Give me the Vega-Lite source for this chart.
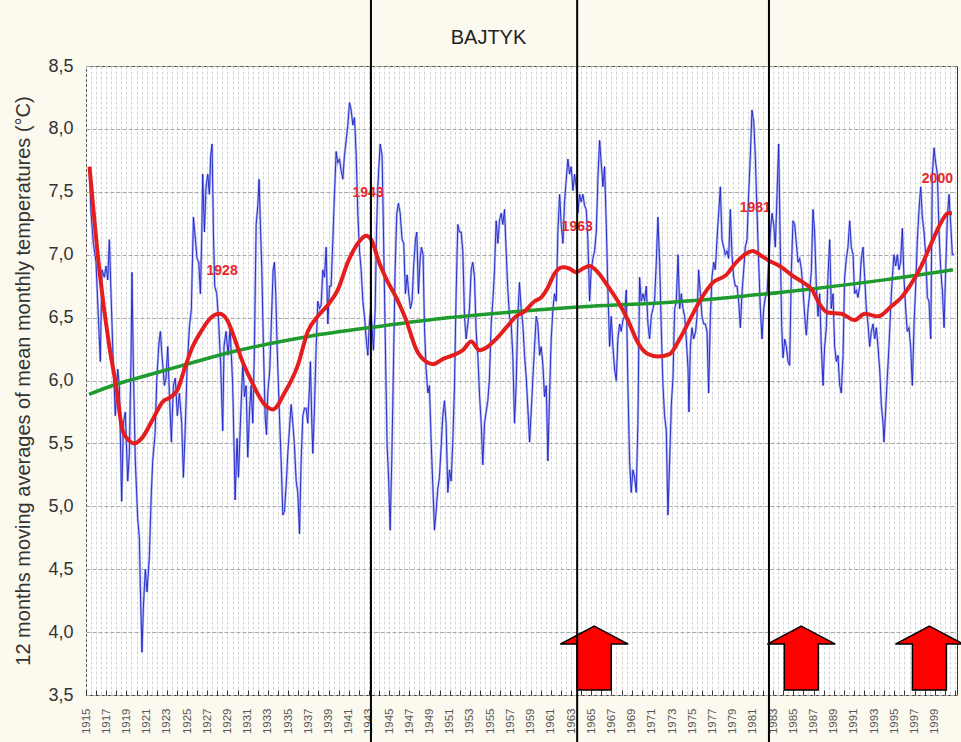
{
  "$schema": "https://vega.github.io/schema/vega-lite/v6.json",
  "width": 871,
  "height": 629,
  "autosize": "none",
  "padding": {"left": 86, "top": 66, "right": 4, "bottom": 47},
  "background": "#fcf9ee",
  "config": {
    "view": {"fill": "white", "stroke": "#333333", "strokeWidth": 1},
    "font": "Liberation Sans"
  },
  "title": {
    "text": "BAJTYK",
    "fontSize": 20,
    "fontWeight": "normal",
    "color": "#222222",
    "font": "Liberation Sans",
    "anchor": "middle",
    "dx": -33,
    "offset": -51
  },
  "datasets": {
    "blue": [
      {"t":1915.35,"v":7.65},{"t":1915.50,"v":7.33},{"t":1915.73,"v":7.09},{"t":1915.99,"v":6.94},{"t":1916.25,"v":6.45},{"t":1916.42,"v":6.15},{"t":1916.58,"v":6.88},{"t":1916.82,"v":6.82},{"t":1916.98,"v":6.91},{"t":1917.15,"v":6.80},{"t":1917.31,"v":7.12},{"t":1917.48,"v":6.69},{"t":1917.64,"v":6.27},{"t":1917.90,"v":5.72},{"t":1918.14,"v":6.09},{"t":1918.30,"v":5.96},{"t":1918.53,"v":5.04},{"t":1918.70,"v":5.66},{"t":1918.89,"v":5.75},{"t":1919.13,"v":5.20},{"t":1919.29,"v":5.42},{"t":1919.46,"v":6.20},{"t":1919.55,"v":6.86},{"t":1919.69,"v":6.09},{"t":1919.88,"v":5.36},{"t":1920.12,"v":4.90},{"t":1920.28,"v":4.75},{"t":1920.38,"v":4.35},{"t":1920.54,"v":3.84},{"t":1920.68,"v":4.20},{"t":1920.87,"v":4.50},{"t":1921.04,"v":4.32},{"t":1921.27,"v":4.60},{"t":1921.44,"v":5.05},{"t":1921.60,"v":5.36},{"t":1921.83,"v":5.57},{"t":1922.00,"v":5.99},{"t":1922.19,"v":6.27},{"t":1922.36,"v":6.39},{"t":1922.52,"v":6.20},{"t":1922.76,"v":5.96},{"t":1922.92,"v":6.02},{"t":1923.09,"v":6.27},{"t":1923.25,"v":5.90},{"t":1923.45,"v":5.51},{"t":1923.65,"v":5.96},{"t":1923.84,"v":6.02},{"t":1924.04,"v":5.72},{"t":1924.24,"v":5.90},{"t":1924.47,"v":5.66},{"t":1924.64,"v":5.23},{"t":1924.80,"v":5.57},{"t":1925.00,"v":6.09},{"t":1925.23,"v":6.42},{"t":1925.43,"v":6.57},{"t":1925.63,"v":7.30},{"t":1925.83,"v":7.12},{"t":1925.99,"v":6.97},{"t":1926.16,"v":6.94},{"t":1926.32,"v":6.69},{"t":1926.45,"v":7.12},{"t":1926.55,"v":7.64},{"t":1926.72,"v":7.18},{"t":1926.88,"v":7.54},{"t":1927.05,"v":7.64},{"t":1927.21,"v":7.48},{"t":1927.34,"v":7.79},{"t":1927.48,"v":7.88},{"t":1927.61,"v":7.18},{"t":1927.74,"v":6.75},{"t":1927.94,"v":6.69},{"t":1928.14,"v":6.45},{"t":1928.33,"v":6.12},{"t":1928.53,"v":5.60},{"t":1928.66,"v":6.27},{"t":1928.86,"v":6.39},{"t":1929.06,"v":6.20},{"t":1929.26,"v":6.42},{"t":1929.52,"v":5.96},
      {"t":1929.76,"v":5.05},{"t":1929.95,"v":5.54},{"t":1930.09,"v":5.23},{"t":1930.28,"v":5.66},{"t":1930.52,"v":6.15},{"t":1930.68,"v":5.87},{"t":1930.85,"v":5.96},{"t":1931.01,"v":5.39},{"t":1931.18,"v":5.75},{"t":1931.34,"v":5.96},{"t":1931.51,"v":5.66},{"t":1931.67,"v":6.27},{"t":1931.84,"v":7.24},{"t":1932.00,"v":7.39},{"t":1932.13,"v":7.60},{"t":1932.26,"v":7.24},{"t":1932.40,"v":6.88},{"t":1932.56,"v":6.27},{"t":1932.73,"v":5.72},{"t":1932.86,"v":5.57},{"t":1932.99,"v":5.90},{"t":1933.19,"v":6.09},{"t":1933.39,"v":6.57},{"t":1933.52,"v":6.88},{"t":1933.65,"v":6.94},{"t":1933.78,"v":6.69},{"t":1933.91,"v":6.27},{"t":1934.15,"v":5.72},{"t":1934.31,"v":5.36},{"t":1934.48,"v":4.93},{"t":1934.64,"v":4.96},{"t":1934.81,"v":5.17},{"t":1934.97,"v":5.42},{"t":1935.17,"v":5.66},{"t":1935.30,"v":5.81},{"t":1935.47,"v":5.66},{"t":1935.63,"v":5.48},{"t":1935.80,"v":5.20},{"t":1935.96,"v":5.11},{"t":1936.13,"v":4.78},{"t":1936.29,"v":5.36},{"t":1936.46,"v":5.72},{"t":1936.62,"v":5.78},{"t":1936.79,"v":5.78},{"t":1936.95,"v":5.66},{"t":1937.12,"v":5.96},{"t":1937.21,"v":6.15},{"t":1937.35,"v":5.66},{"t":1937.45,"v":5.42},{"t":1937.61,"v":5.78},{"t":1937.78,"v":6.27},{"t":1937.94,"v":6.63},{"t":1938.11,"v":6.57},{"t":1938.27,"v":6.60},{"t":1938.44,"v":6.88},{"t":1938.60,"v":6.82},{"t":1938.77,"v":7.06},{"t":1938.93,"v":6.45},{"t":1939.10,"v":6.75},{"t":1939.26,"v":6.75},{"t":1939.43,"v":7.12},{"t":1939.59,"v":7.48},{"t":1939.76,"v":7.82},{"t":1939.92,"v":7.73},{"t":1940.09,"v":7.76},{"t":1940.25,"v":7.67},{"t":1940.42,"v":7.60},{"t":1940.58,"v":7.79},{"t":1940.75,"v":7.91},{"t":1940.91,"v":8.03},{"t":1941.08,"v":8.21},{"t":1941.24,"v":8.15},{"t":1941.41,"v":8.03},{"t":1941.57,"v":8.09},{"t":1941.74,"v":7.79},{"t":1941.90,"v":7.33},{"t":1942.07,"v":7.03},{"t":1942.23,"v":6.88},{"t":1942.40,"v":6.63},{"t":1942.56,"v":6.51},{"t":1942.73,"v":6.33},{"t":1942.89,"v":6.20},{"t":1943.02,"v":6.42},{"t":1943.16,"v":6.57},{"t":1943.29,"v":6.45},{"t":1943.45,"v":6.24},{"t":1943.62,"v":6.57},{"t":1943.75,"v":7.18},{"t":1943.88,"v":7.54},
      {"t":1944.11,"v":7.88},{"t":1944.30,"v":7.79},{"t":1944.44,"v":7.18},{"t":1944.63,"v":6.27},{"t":1944.80,"v":5.48},{"t":1944.96,"v":5.20},{"t":1945.10,"v":4.81},{"t":1945.26,"v":5.36},{"t":1945.43,"v":6.12},{"t":1945.59,"v":6.88},{"t":1945.76,"v":7.33},{"t":1945.92,"v":7.41},{"t":1946.09,"v":7.33},{"t":1946.28,"v":7.12},{"t":1946.45,"v":7.09},{"t":1946.61,"v":6.69},{"t":1946.78,"v":6.84},{"t":1946.94,"v":6.69},{"t":1947.11,"v":6.57},{"t":1947.27,"v":6.63},{"t":1947.41,"v":6.88},{"t":1947.60,"v":7.12},{"t":1947.74,"v":7.18},{"t":1947.90,"v":6.69},{"t":1948.07,"v":6.97},{"t":1948.20,"v":7.06},{"t":1948.36,"v":7.00},{"t":1948.50,"v":6.42},{"t":1948.66,"v":6.09},{"t":1948.83,"v":5.90},{"t":1948.99,"v":5.96},{"t":1949.16,"v":5.51},{"t":1949.32,"v":5.17},{"t":1949.49,"v":4.81},{"t":1949.65,"v":4.96},{"t":1949.82,"v":5.14},{"t":1949.98,"v":5.23},{"t":1950.15,"v":5.48},{"t":1950.31,"v":5.72},{"t":1950.48,"v":5.84},{"t":1950.64,"v":5.66},{"t":1950.81,"v":5.11},{"t":1950.97,"v":5.29},{"t":1951.14,"v":5.20},{"t":1951.30,"v":5.51},{"t":1951.47,"v":5.96},{"t":1951.63,"v":6.69},{"t":1951.80,"v":7.24},{"t":1951.96,"v":7.18},{"t":1952.13,"v":7.18},{"t":1952.29,"v":7.03},{"t":1952.46,"v":6.51},{"t":1952.62,"v":6.33},{"t":1952.79,"v":6.45},{"t":1952.95,"v":6.57},{"t":1953.12,"v":6.88},{"t":1953.28,"v":6.94},{"t":1953.45,"v":6.82},{"t":1953.61,"v":6.39},{"t":1953.78,"v":6.20},{"t":1953.94,"v":5.90},{"t":1954.11,"v":5.66},{"t":1954.27,"v":5.33},{"t":1954.44,"v":5.66},{"t":1954.60,"v":5.75},{"t":1954.77,"v":5.84},{"t":1954.93,"v":6.02},{"t":1955.10,"v":6.45},{"t":1955.26,"v":6.63},{"t":1955.43,"v":6.88},{"t":1955.59,"v":7.27},{"t":1955.76,"v":7.09},{"t":1955.92,"v":7.27},{"t":1956.09,"v":7.33},{"t":1956.25,"v":7.24},{"t":1956.42,"v":7.36},{"t":1956.58,"v":7.03},{"t":1956.75,"v":6.72},{"t":1956.91,"v":6.51},{"t":1957.08,"v":6.45},{"t":1957.24,"v":6.20},{"t":1957.41,"v":5.66},{"t":1957.57,"v":5.96},{"t":1957.74,"v":6.51},{"t":1957.90,"v":6.78},{"t":1958.07,"v":6.57},{"t":1958.23,"v":6.45},{"t":1958.40,"v":6.20},
      {"t":1958.57,"v":6.02},{"t":1958.73,"v":5.78},{"t":1958.90,"v":5.51},{"t":1959.06,"v":5.75},{"t":1959.23,"v":6.02},{"t":1959.39,"v":6.27},{"t":1959.56,"v":6.51},{"t":1959.72,"v":6.45},{"t":1959.89,"v":6.20},{"t":1960.05,"v":6.27},{"t":1960.22,"v":6.12},{"t":1960.38,"v":5.87},{"t":1960.55,"v":5.96},{"t":1960.71,"v":5.36},{"t":1960.88,"v":5.90},{"t":1961.04,"v":6.33},{"t":1961.21,"v":6.57},{"t":1961.37,"v":6.69},{"t":1961.54,"v":6.63},{"t":1961.70,"v":7.18},{"t":1961.87,"v":7.48},{"t":1962.03,"v":7.24},{"t":1962.20,"v":7.09},{"t":1962.36,"v":7.42},{"t":1962.53,"v":7.60},{"t":1962.69,"v":7.76},{"t":1962.86,"v":7.64},{"t":1963.02,"v":7.70},{"t":1963.19,"v":7.51},{"t":1963.35,"v":7.64},{"t":1963.52,"v":7.54},{"t":1963.68,"v":7.33},{"t":1963.85,"v":7.48},{"t":1964.01,"v":7.42},{"t":1964.18,"v":7.48},{"t":1964.34,"v":7.39},{"t":1964.51,"v":7.36},{"t":1964.67,"v":7.12},{"t":1964.84,"v":6.63},{"t":1965.00,"v":6.88},{"t":1965.17,"v":6.97},{"t":1965.33,"v":7.03},{"t":1965.50,"v":7.18},{"t":1965.66,"v":7.60},{"t":1965.83,"v":7.91},{"t":1965.99,"v":7.73},{"t":1966.16,"v":7.54},{"t":1966.32,"v":7.70},{"t":1966.49,"v":7.24},{"t":1966.65,"v":6.72},{"t":1966.82,"v":6.27},{"t":1966.98,"v":6.51},{"t":1967.15,"v":6.27},{"t":1967.31,"v":6.09},{"t":1967.48,"v":6.00},{"t":1967.64,"v":6.33},{"t":1967.81,"v":6.45},{"t":1967.97,"v":6.39},{"t":1968.14,"v":6.48},{"t":1968.30,"v":6.51},{"t":1968.47,"v":6.72},{"t":1968.63,"v":5.96},{"t":1968.80,"v":5.36},{"t":1968.96,"v":5.11},{"t":1969.13,"v":5.29},{"t":1969.29,"v":5.23},{"t":1969.46,"v":5.11},{"t":1969.62,"v":5.66},{"t":1969.79,"v":6.82},{"t":1969.95,"v":6.63},{"t":1970.12,"v":6.69},{"t":1970.28,"v":6.63},{"t":1970.45,"v":6.75},{"t":1970.61,"v":6.45},{"t":1970.78,"v":6.33},{"t":1970.94,"v":6.51},{"t":1971.11,"v":6.57},{"t":1971.27,"v":6.63},{"t":1971.44,"v":6.94},{"t":1971.60,"v":7.30},{"t":1971.77,"v":6.94},{"t":1971.93,"v":6.42},{"t":1972.10,"v":5.96},{"t":1972.26,"v":5.72},{"t":1972.43,"v":5.60},{"t":1972.59,"v":4.93},{"t":1972.76,"v":5.36},
      {"t":1972.93,"v":5.81},{"t":1973.09,"v":6.02},{"t":1973.26,"v":6.57},{"t":1973.42,"v":6.63},{"t":1973.59,"v":7.00},{"t":1973.75,"v":6.57},{"t":1973.92,"v":6.69},{"t":1974.08,"v":6.57},{"t":1974.25,"v":6.51},{"t":1974.41,"v":6.33},{"t":1974.58,"v":6.09},{"t":1974.67,"v":5.75},{"t":1974.81,"v":6.27},{"t":1974.97,"v":6.42},{"t":1975.14,"v":6.33},{"t":1975.33,"v":6.39},{"t":1975.47,"v":6.51},{"t":1975.63,"v":6.88},{"t":1975.80,"v":6.69},{"t":1975.96,"v":6.51},{"t":1976.13,"v":6.45},{"t":1976.29,"v":6.45},{"t":1976.46,"v":6.39},{"t":1976.62,"v":5.90},{"t":1976.79,"v":6.51},{"t":1976.95,"v":6.82},{"t":1977.12,"v":6.94},{"t":1977.28,"v":6.88},{"t":1977.45,"v":7.12},{"t":1977.61,"v":7.33},{"t":1977.78,"v":7.54},{"t":1977.94,"v":7.12},{"t":1978.11,"v":7.06},{"t":1978.27,"v":7.00},{"t":1978.44,"v":7.03},{"t":1978.60,"v":6.97},{"t":1978.77,"v":7.36},{"t":1978.93,"v":7.00},{"t":1979.10,"v":6.82},{"t":1979.26,"v":6.75},{"t":1979.43,"v":6.75},{"t":1979.59,"v":6.63},{"t":1979.76,"v":6.42},{"t":1979.92,"v":6.69},{"t":1980.09,"v":6.88},{"t":1980.25,"v":7.06},{"t":1980.42,"v":7.12},{"t":1980.58,"v":7.48},{"t":1980.75,"v":7.79},{"t":1980.91,"v":8.15},{"t":1981.08,"v":8.06},{"t":1981.24,"v":7.79},{"t":1981.41,"v":7.33},{"t":1981.57,"v":6.94},{"t":1981.74,"v":6.57},{"t":1981.90,"v":6.33},{"t":1982.07,"v":6.57},{"t":1982.23,"v":6.66},{"t":1982.40,"v":6.69},{"t":1982.56,"v":6.94},{"t":1982.73,"v":7.18},{"t":1982.89,"v":7.33},{"t":1983.06,"v":7.24},{"t":1983.22,"v":7.06},{"t":1983.39,"v":7.48},{"t":1983.55,"v":7.88},{"t":1983.72,"v":7.03},{"t":1983.85,"v":6.42},{"t":1983.98,"v":6.18},{"t":1984.15,"v":6.33},{"t":1984.31,"v":6.27},{"t":1984.48,"v":6.15},{"t":1984.64,"v":6.12},{"t":1984.81,"v":6.88},{"t":1984.97,"v":7.27},{"t":1985.14,"v":7.24},{"t":1985.30,"v":7.09},{"t":1985.47,"v":6.94},{"t":1985.63,"v":6.97},{"t":1985.80,"v":6.88},{"t":1985.96,"v":6.72},{"t":1986.13,"v":6.51},{"t":1986.29,"v":6.36},{"t":1986.46,"v":6.57},{"t":1986.62,"v":6.69},{"t":1986.79,"v":6.88},{"t":1986.95,"v":7.36},
      {"t":1987.11,"v":7.18},{"t":1987.28,"v":6.75},{"t":1987.44,"v":6.51},{"t":1987.61,"v":6.69},{"t":1987.77,"v":6.27},{"t":1987.94,"v":5.96},{"t":1988.10,"v":6.27},{"t":1988.27,"v":6.42},{"t":1988.43,"v":6.82},{"t":1988.60,"v":7.12},{"t":1988.76,"v":6.57},{"t":1988.93,"v":6.69},{"t":1989.09,"v":6.27},{"t":1989.26,"v":6.15},{"t":1989.42,"v":6.20},{"t":1989.59,"v":5.96},{"t":1989.75,"v":5.90},{"t":1989.92,"v":6.20},{"t":1990.08,"v":6.82},{"t":1990.25,"v":6.97},{"t":1990.41,"v":7.06},{"t":1990.58,"v":7.27},{"t":1990.74,"v":7.06},{"t":1990.91,"v":7.00},{"t":1991.07,"v":6.69},{"t":1991.24,"v":6.72},{"t":1991.40,"v":6.66},{"t":1991.57,"v":6.75},{"t":1991.73,"v":6.97},{"t":1991.90,"v":7.06},{"t":1992.06,"v":6.82},{"t":1992.23,"v":6.57},{"t":1992.39,"v":6.45},{"t":1992.56,"v":6.27},{"t":1992.72,"v":6.39},{"t":1992.89,"v":6.45},{"t":1993.05,"v":6.33},{"t":1993.22,"v":6.42},{"t":1993.38,"v":6.27},{"t":1993.55,"v":6.09},{"t":1993.71,"v":5.81},{"t":1993.88,"v":5.66},{"t":1993.97,"v":5.51},{"t":1994.11,"v":5.72},{"t":1994.30,"v":6.02},{"t":1994.47,"v":6.27},{"t":1994.63,"v":6.57},{"t":1994.80,"v":6.82},{"t":1994.96,"v":7.00},{"t":1995.13,"v":6.91},{"t":1995.29,"v":7.00},{"t":1995.46,"v":6.88},{"t":1995.62,"v":6.94},{"t":1995.79,"v":7.21},{"t":1995.95,"v":6.82},{"t":1996.12,"v":6.57},{"t":1996.28,"v":6.39},{"t":1996.45,"v":6.42},{"t":1996.61,"v":6.27},{"t":1996.78,"v":5.96},{"t":1996.95,"v":6.45},{"t":1997.11,"v":6.75},{"t":1997.28,"v":7.12},{"t":1997.44,"v":7.36},{"t":1997.61,"v":7.54},{"t":1997.77,"v":7.30},{"t":1997.94,"v":7.18},{"t":1998.10,"v":7.00},{"t":1998.27,"v":6.66},{"t":1998.43,"v":6.63},{"t":1998.60,"v":6.33},{"t":1998.76,"v":7.64},{"t":1998.93,"v":7.85},{"t":1999.09,"v":7.73},{"t":1999.26,"v":7.64},{"t":1999.42,"v":7.18},{"t":1999.59,"v":6.88},{"t":1999.75,"v":6.72},{"t":1999.92,"v":6.42},{"t":2000.08,"v":6.88},{"t":2000.25,"v":7.30},{"t":2000.41,"v":7.48},{"t":2000.58,"v":7.24},{"t":2000.74,"v":7.00},{"t":2000.91,"v":7.00}
    ],
    "red": [
      {"t":1915.35,"v":7.70},{"t":1916.32,"v":6.88},{"t":1917.31,"v":6.27},{"t":1917.97,"v":5.96},{"t":1918.63,"v":5.60},{"t":1919.29,"v":5.52},{"t":1919.79,"v":5.50},{"t":1920.61,"v":5.55},{"t":1921.6,"v":5.69},{"t":1922.59,"v":5.83},{"t":1923.42,"v":5.87},{"t":1924.08,"v":5.93},{"t":1924.74,"v":6.09},{"t":1925.56,"v":6.27},{"t":1926.39,"v":6.39},{"t":1927.38,"v":6.50},{"t":1928.2,"v":6.53},{"t":1928.9,"v":6.49},{"t":1929.85,"v":6.30},{"t":1930.35,"v":6.18},{"t":1931.34,"v":6.00},{"t":1932.66,"v":5.81},{"t":1933.5,"v":5.77},{"t":1934.64,"v":5.90},{"t":1935.96,"v":6.12},{"t":1936.95,"v":6.39},{"t":1937.94,"v":6.51},{"t":1938.93,"v":6.60},{"t":1939.92,"v":6.72},{"t":1940.91,"v":6.94},{"t":1941.9,"v":7.09},{"t":1942.73,"v":7.15},{"t":1943.22,"v":7.12},{"t":1944.05,"v":6.93},{"t":1944.7,"v":6.81},{"t":1945.69,"v":6.66},{"t":1946.68,"v":6.48},{"t":1947.67,"v":6.25},{"t":1948.66,"v":6.15},{"t":1949.32,"v":6.13},{"t":1950.31,"v":6.17},{"t":1951.3,"v":6.20},{"t":1952.29,"v":6.24},{"t":1953.12,"v":6.31},{"t":1953.94,"v":6.24},{"t":1954.6,"v":6.26},{"t":1955.59,"v":6.33},{"t":1956.58,"v":6.42},{"t":1957.57,"v":6.51},{"t":1958.4,"v":6.55},{"t":1959.39,"v":6.63},{"t":1960.05,"v":6.66},{"t":1960.71,"v":6.74},{"t":1961.37,"v":6.85},{"t":1962.2,"v":6.90},{"t":1962.86,"v":6.89},{"t":1963.52,"v":6.86},{"t":1964.18,"v":6.89},{"t":1964.84,"v":6.91},{"t":1965.66,"v":6.86},{"t":1966.65,"v":6.75},{"t":1967.64,"v":6.63},{"t":1968.63,"v":6.48},{"t":1969.62,"v":6.30},{"t":1970.61,"v":6.21},{"t":1971.6,"v":6.19},{"t":1972.76,"v":6.21},{"t":1973.75,"v":6.33},{"t":1974.74,"v":6.48},{"t":1975.73,"v":6.63},{"t":1977.05,"v":6.78},{"t":1978.37,"v":6.84},{"t":1979.36,"v":6.94},{"t":1980.35,"v":7.01},{"t":1981.01,"v":7.03},{"t":1981.67,"v":7.00},{"t":1982.66,"v":6.95},{"t":1983.65,"v":6.91},{"t":1984.97,"v":6.83},{"t":1985.96,"v":6.78},{"t":1986.95,"v":6.71},{"t":1987.44,"v":6.63},{"t":1988.43,"v":6.54},{"t":1989.75,"v":6.53},{"t":1991.07,"v":6.48},{"t":1992.06,"v":6.53},{"t":1993.38,"v":6.51},{"t":1994.7,"v":6.59},{"t":1995.69,"v":6.66},{"t":1996.68,"v":6.77},{"t":1997.67,"v":6.91},{"t":1998.66,"v":7.09},{"t":1999.65,"v":7.26},{"t":2000.31,"v":7.33},{"t":2000.7,"v":7.33}
    ],
    "green": [
      {"t":1915.3,"v":5.89},{"t":1918,"v":5.97},{"t":1921,"v":6.04},{"t":1925,"v":6.13},{"t":1929.6,"v":6.23},{"t":1933,"v":6.29},{"t":1937,"v":6.35},{"t":1944,"v":6.43},{"t":1951,"v":6.50},{"t":1958,"v":6.55},{"t":1965,"v":6.59},{"t":1972.5,"v":6.62},{"t":1980,"v":6.67},{"t":1987,"v":6.73},{"t":1994,"v":6.80},{"t":2000.8,"v":6.88}
    ],
    "vlines": [
      {"t":1943.2,"v":9.04,"bottom":3.0},
      {"t":1963.61,"v":9.04,"bottom":3.0},
      {"t":1982.59,"v":9.04,"bottom":3.0}
    ],
    "labels": [
      {"t":1928.47,"v":6.87,"label":"1928"},
      {"t":1942.92,"v":7.49,"label":"1943"},
      {"t":1963.61,"v":7.22,"label":"1963"},
      {"t":1981.24,"v":7.37,"label":"1981"},
      {"t":1999.26,"v":7.60,"label":"2000"}
    ],
    "arrows": [
      {"t":1965.3,"v":3.794},
      {"t":1985.79,"v":3.794},
      {"t":1998.47,"v":3.794}
    ]
  },
  "encoding": {
    "x": {
      "field": "t", "type": "quantitative", "title": null,
      "scale": {"domain": [1915, 2001.2], "nice": false, "zero": false},
      "axis": {
        "values": [1915,1915.5,1916,1916.5,1917,1917.5,1918,1918.5,1919,1919.5,1920,1920.5,1921,1921.5,1922,1922.5,1923,1923.5,1924,1924.5,1925,1925.5,1926,1926.5,1927,1927.5,1928,1928.5,1929,1929.5,1930,1930.5,1931,1931.5,1932,1932.5,1933,1933.5,1934,1934.5,1935,1935.5,1936,1936.5,1937,1937.5,1938,1938.5,1939,1939.5,1940,1940.5,1941,1941.5,1942,1942.5,1943,1943.5,1944,1944.5,1945,1945.5,1946,1946.5,1947,1947.5,1948,1948.5,1949,1949.5,1950,1950.5,1951,1951.5,1952,1952.5,1953,1953.5,1954,1954.5,1955,1955.5,1956,1956.5,1957,1957.5,1958,1958.5,1959,1959.5,1960,1960.5,1961,1961.5,1962,1962.5,1963,1963.5,1964,1964.5,1965,1965.5,1966,1966.5,1967,1967.5,1968,1968.5,1969,1969.5,1970,1970.5,1971,1971.5,1972,1972.5,1973,1973.5,1974,1974.5,1975,1975.5,1976,1976.5,1977,1977.5,1978,1978.5,1979,1979.5,1980,1980.5,1981,1981.5,1982,1982.5,1983,1983.5,1984,1984.5,1985,1985.5,1986,1986.5,1987,1987.5,1988,1988.5,1989,1989.5,1990,1990.5,1991,1991.5,1992,1992.5,1993,1993.5,1994,1994.5,1995,1995.5,1996,1996.5,1997,1997.5,1998,1998.5,1999,1999.5,2000,2000.5,2001],
        "labelExpr": "((datum.value % 2) == 1 && datum.value < 2000) ? '' + datum.value : ''",
        "labelAngle": -90,
        "labelFontSize": 11.5,
        "labelColor": "#555555",
        "labelPadding": 18,
        "labelOverlap": false,
        "labelFlush": false,
        "domain": false,
        "ticks": true,
        "tickSize": -5,
        "tickColor": "#333333",
        "tickOpacity": {"condition": {"test": "datum.value % 1 == 0", "value": 1}, "value": 0},
        "grid": true,
        "gridColor": "#d2d2d2",
        "gridDash": [3, 2],
        "gridWidth": 1
      }
    },
    "y": {
      "field": "v", "type": "quantitative",
      "title": "12 months moving averages of mean monthly temperatures (°C)",
      "scale": {"domain": [3.5, 8.5], "nice": false, "zero": false},
      "axis": {
        "titleFontSize": 20,
        "titleFontWeight": "normal",
        "titleColor": "#333333",
        "titlePadding": 14,
        "values": [3.5,4,4.5,5,5.5,6,6.5,7,7.5,8,8.5],
        "labelExpr": "replace(format(datum.value, '.1f'), '.', ',')",
        "labelFontSize": 18,
        "labelColor": "#333333",
        "labelPadding": 13,
        "labelFlush": false,
        "ticks": false,
        "domain": false,
        "grid": true,
        "gridColor": "#a8a8a8",
        "gridDash": [4, 2],
        "gridWidth": 1
      }
    }
  },
  "layer": [
    {
      "data": {"name": "blue"},
      "mark": {"type": "line", "color": "#b4b8f5", "strokeWidth": 2.4}
    },
    {
      "data": {"name": "blue"},
      "mark": {"type": "line", "color": "#1a22c4", "strokeWidth": 0.9}
    },
    {
      "data": {"name": "green"},
      "mark": {"type": "line", "color": "#1f9a2f", "strokeWidth": 3.5, "interpolate": "monotone"}
    },
    {
      "data": {"name": "red"},
      "mark": {"type": "line", "color": "#e41e1e", "strokeWidth": 4, "interpolate": "monotone"}
    },
    {
      "data": {"name": "labels"},
      "mark": {"type": "text", "color": "#e8282d", "fontSize": 14, "fontWeight": "bold", "font": "Liberation Sans", "align": "center", "baseline": "middle"},
      "encoding": {"text": {"field": "label"}}
    },
    {
      "data": {"name": "arrows"},
      "mark": {"type": "point", "shape": "M0,-0.94 L1,-0.41 L0.5,-0.41 L0.5,0.94 L-0.5,0.94 L-0.5,-0.41 L-1,-0.41 Z", "size": 4624, "filled": true, "fill": "#ff0000", "stroke": "#000000", "strokeWidth": 1.5, "opacity": 1, "fillOpacity": 1}
    },
    {
      "data": {"name": "vlines"},
      "mark": {"type": "rule", "color": "#000000", "strokeWidth": 2, "clip": false},
      "encoding": {"y2": {"field": "bottom"}}
    }
  ]
}
